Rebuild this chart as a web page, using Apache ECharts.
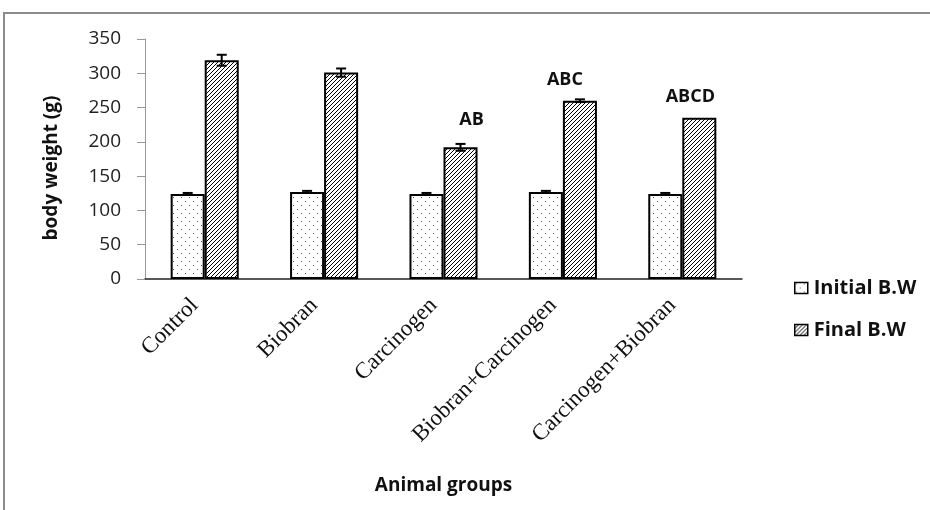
<!DOCTYPE html>
<html>
<head>
<meta charset="utf-8">
<script src="https://cdn.jsdelivr.net/npm/echarts@6/dist/echarts.min.js"></script>
<style>
html, body { margin: 0; padding: 0; background: #fff; }
#main { width: 930px; height: 510px; }
</style>
</head>
<body>
<div id="main"></div>
<script>
var groups = ['Control', 'Biobran', 'Carcinogen', 'Biobran+Carcinogen', 'Carcinogen+Biobran'];
var initialBW = [124, 127, 124, 127, 124];
var finalBW = [319, 301, 192, 260, 235];
var initialErr = [1.5, 1.5, 1.5, 1.5, 1.5];
var finalErr = [8, 6, 5, 2, 0];
var sigLetters = ['', '', 'AB', 'ABC', 'ABCD'];

// label nudges for the significance letters (px)
var letterShift = [[0, 0], [0, 0], [11, -6], [-15, 0], [-9, 0]];

var BAR_RATIO = 0.285;

function dotPattern() {
    var c = document.createElement('canvas');
    c.width = 8; c.height = 8;
    var ctx = c.getContext('2d');
    ctx.fillStyle = '#fff';
    ctx.fillRect(0, 0, 8, 8);
    ctx.fillStyle = '#555';
    ctx.fillRect(1, 1, 1, 1);
    ctx.fillRect(5, 5, 1, 1);
    return c;
}

function hatchPattern() {
    var c = document.createElement('canvas');
    c.width = 4; c.height = 4;
    var ctx = c.getContext('2d');
    ctx.fillStyle = '#fff';
    ctx.fillRect(0, 0, 4, 4);
    ctx.strokeStyle = '#000';
    ctx.lineWidth = 1;
    ctx.beginPath();
    ctx.moveTo(0, 4); ctx.lineTo(4, 0);
    ctx.moveTo(-1, 1); ctx.lineTo(1, -1);
    ctx.moveTo(3, 5); ctx.lineTo(5, 3);
    ctx.stroke();
    return c;
}

function errorRenderer(side) {
    return function (params, api) {
        var i = api.value(0), v = api.value(1), e = api.value(2);
        if (!e) return null;
        var bw = api.size([1, 0])[0] * BAR_RATIO;
        var cx = api.coord([i, v])[0] + side * bw / 2;
        var top = api.coord([i, v + e])[1];
        var bot = api.coord([i, v - e])[1];
        var hw = 5;
        var st = { stroke: '#000', lineWidth: 2 };
        return {
            type: 'group',
            children: [
                { type: 'line', shape: { x1: cx, y1: top, x2: cx, y2: bot }, style: st },
                { type: 'line', shape: { x1: cx - hw, y1: top, x2: cx + hw, y2: top }, style: st },
                { type: 'line', shape: { x1: cx - hw, y1: bot, x2: cx + hw, y2: bot }, style: st }
            ]
        };
    };
}

var chart = echarts.init(document.getElementById('main'));

var option = {
    animation: false,
    backgroundColor: '#fff',
    graphic: [{
        type: 'rect',
        shape: { x: 4, y: 13, width: 1000, height: 600 },
        style: { fill: 'none', stroke: '#8c8c8c', lineWidth: 2 },
        silent: true
    }],
    grid: { left: 145, right: 188, top: 39, bottom: 231 },
    legend: {
        orient: 'vertical',
        left: 789,
        top: 273,
        icon: 'rect',
        itemWidth: 13,
        itemHeight: 11,
        itemGap: 22,
        data: ['Initial B.W', 'Final B.W'],
        itemStyle: { borderColor: '#000', borderWidth: 1.5 },
        textStyle: { fontFamily: 'Open Sans', fontWeight: 'bold', fontSize: 20, color: '#111', padding: [0, 0, 0, 1] }
    },
    xAxis: {
        type: 'category',
        data: groups,
        name: 'Animal groups',
        nameLocation: 'middle',
        nameGap: 197,
        nameTextStyle: { fontFamily: 'Open Sans', fontWeight: 'bold', fontSize: 19, color: '#111' },
        axisLine: { lineStyle: { color: '#222', width: 1.5 } },
        axisTick: { show: false },
        axisLabel: {
            rotate: 45, interval: 0, margin: 13,
            padding: [0, 14, 0, 0],
            fontFamily: 'Liberation Serif', fontSize: 23, color: '#111'
        }
    },
    yAxis: {
        type: 'value',
        min: 0,
        max: 350,
        interval: 50,
        name: 'body weight (g)',
        nameLocation: 'middle',
        nameGap: 84,
        nameTextStyle: { fontFamily: 'Open Sans', fontWeight: 'bold', fontSize: 19, color: '#111', padding: [0, 18, 0, 0] },
        axisLine: { show: true, lineStyle: { color: '#999', width: 1 } },
        axisTick: { show: true, length: 8, lineStyle: { color: '#999' } },
        splitLine: { show: false },
        axisLabel: { margin: 24, fontFamily: 'Open Sans', fontSize: 19, color: '#222' }
    },
    series: [
        {
            name: 'Initial B.W',
            type: 'bar',
            barWidth: (BAR_RATIO * 100) + '%',
            barGap: '0%',
            itemStyle: { color: { image: dotPattern(), repeat: 'repeat' }, borderColor: '#000', borderWidth: 2 },
            data: initialBW
        },
        {
            name: 'Final B.W',
            type: 'bar',
            barWidth: (BAR_RATIO * 100) + '%',
            barGap: '0%',
            itemStyle: { color: { image: hatchPattern(), repeat: 'repeat' }, borderColor: '#000', borderWidth: 2 },
            data: finalBW.map(function (v, i) {
                return {
                    value: v,
                    label: {
                        show: sigLetters[i] !== '',
                        position: 'top',
                        distance: 12,
                        offset: letterShift[i],
                        formatter: sigLetters[i],
                        fontFamily: 'Open Sans',
                        fontWeight: 'bold',
                        fontSize: 18,
                        color: '#111'
                    }
                };
            })
        },
        {
            type: 'custom',
            renderItem: errorRenderer(-1),
            z: 5,
            data: initialBW.map(function (v, i) { return [i, v, initialErr[i]]; })
        },
        {
            type: 'custom',
            renderItem: errorRenderer(1),
            z: 5,
            data: finalBW.map(function (v, i) { return [i, v, finalErr[i]]; })
        }
    ]
};

chart.setOption(option);
</script>
</body>
</html>
